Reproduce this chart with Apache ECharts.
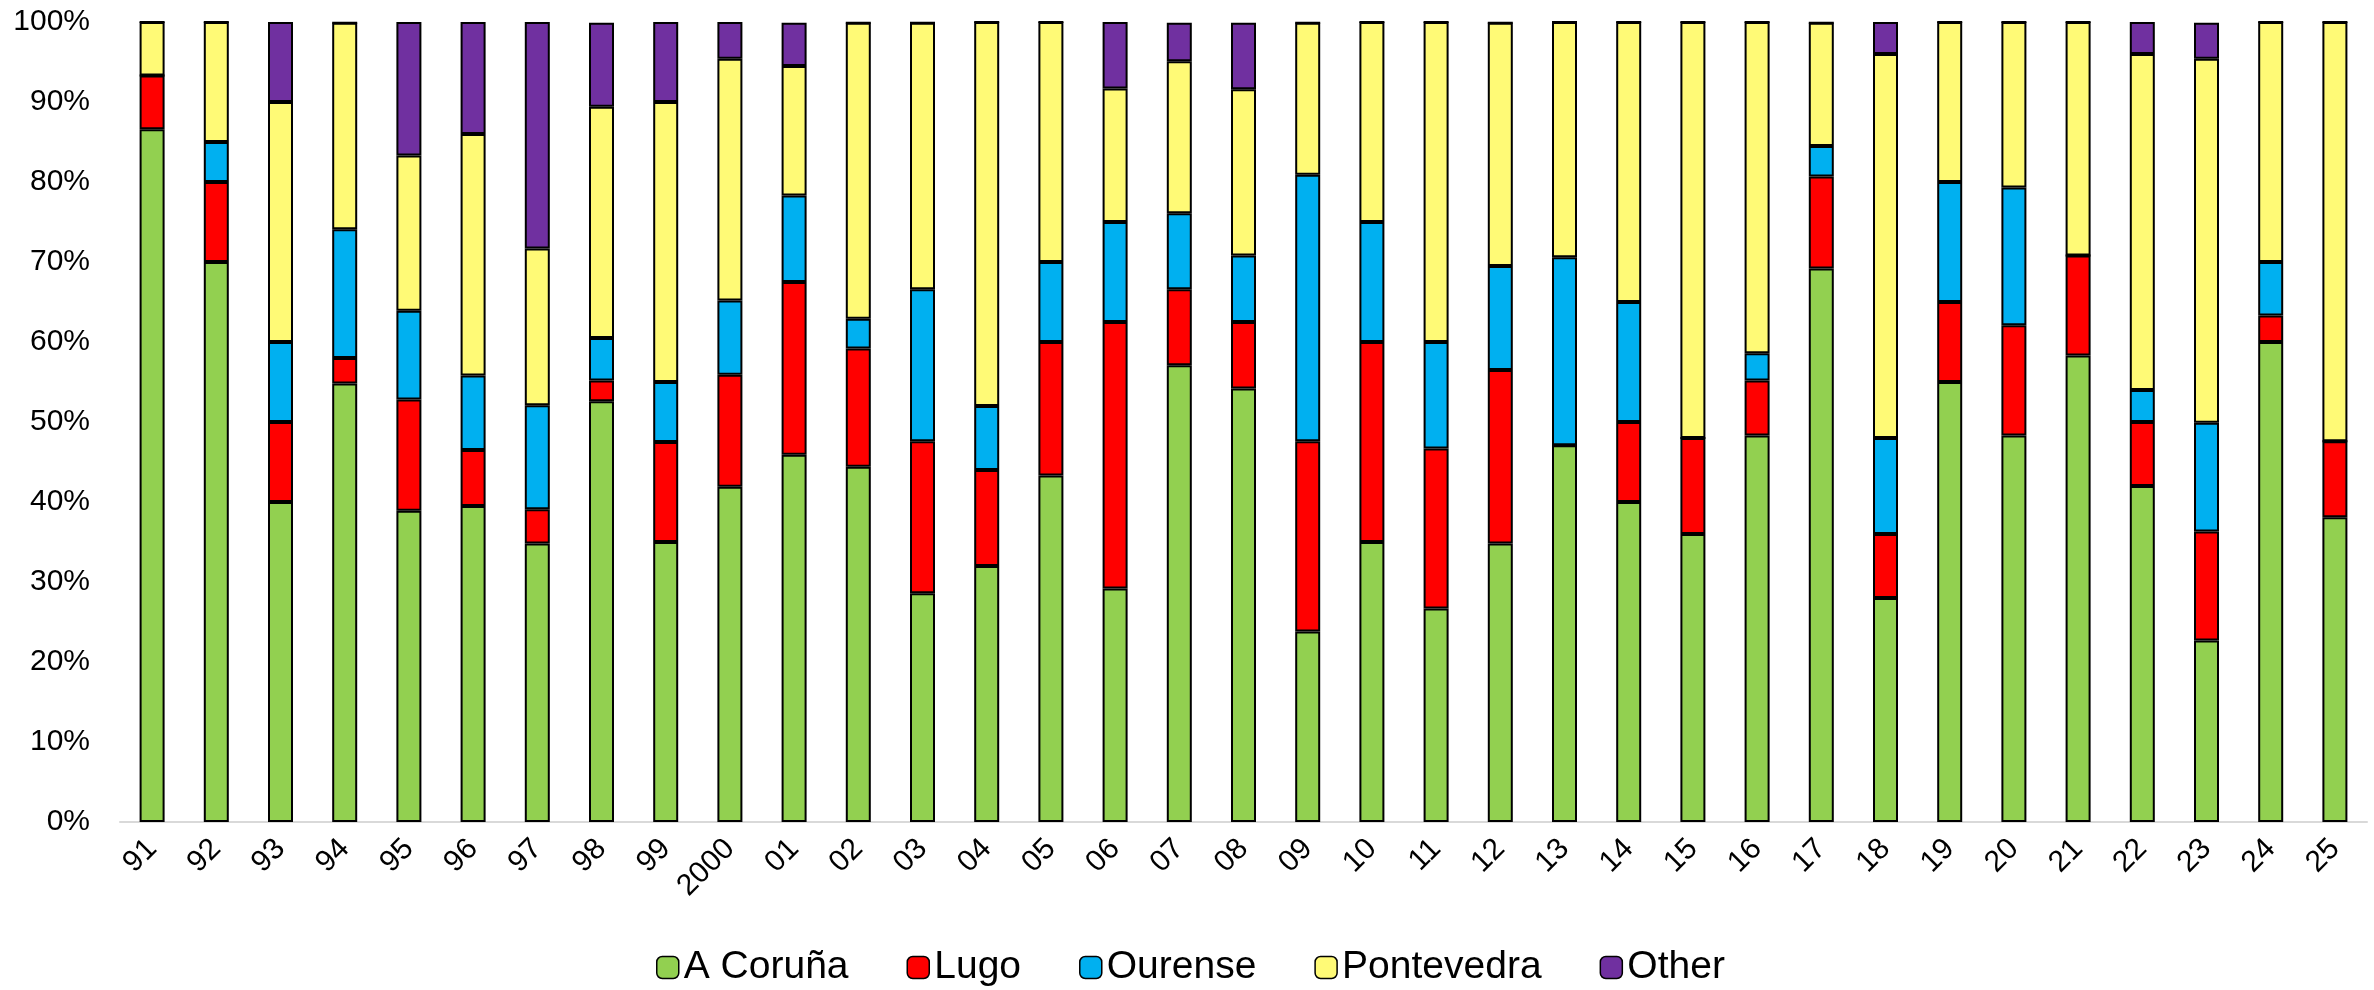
<!DOCTYPE html>
<html>
<head>
<meta charset="utf-8">
<title>Galicia share by province</title>
<script src="https://cdn.jsdelivr.net/npm/echarts@6/dist/echarts.min.js"></script>
<style>
    html, body { margin: 0; padding: 0; background: #fff; }
    #chart { width: 2374px; height: 990px; }
</style>
</head>
<body>
<div id="chart"></div>
<script>
var years = ['91','92','93','94','95','96','97','98','99','2000','01','02','03','04','05','06','07','08','09','10','11','12','13','14','15','16','17','18','19','20','21','22','23','24','25'];
var seriesNames = ['A Coruña', 'Lugo', 'Ourense', 'Pontevedra', 'Other'];
var aCoruna    = [86.6,70,40,54.8,38.9,39.5,34.8,52.6,35,41.9,45.9,44.4,28.6,32,43.3,29.2,57.1,54.2,23.8,35,26.7,34.8,47.1,40,36,48.3,69.2,28,55,48.3,58.3,42,22.7,60,38.1];
var lugo       = [6.7,10,10,3.2,13.9,7.0,4.3,2.6,12.5,14.0,21.6,14.8,19.0,12,16.7,33.3,9.5,8.3,23.8,25,20,21.7,0,10,12,6.9,11.5,8,10,13.8,12.5,8,13.6,3.3,9.5];
var ourense    = [0,5,10,16.1,11.1,9.3,13.0,5.3,7.5,9.3,10.8,3.7,19.0,8,10,12.5,9.5,8.3,33.3,15,13.3,13.0,23.5,15,0,3.4,3.8,12,15,17.2,0,4,13.6,6.7,0];
var pontevedra = [6.7,15,30,25.8,19.4,30.2,19.6,28.9,35,30.2,16.2,37.0,33.3,48,30,16.7,19.0,20.8,19.0,25,40,30.4,29.4,35,52,41.4,15.4,48,20,20.7,29.2,42,45.5,30,52.4];
var other      = [0,0,10,0,16.7,14.0,28.3,10.5,10,4.6,5.4,0,0,0,0,8.3,4.8,8.3,0,0,0,0,0,0,0,0,0,4,0,0,0,4,4.5,0,0];

var colors = ['#92D050', '#FF0000', '#00B0F0', '#FFFA76', '#7030A0'];
var values = [aCoruna, lugo, ourense, pontevedra, other];
var font = 'Liberation Sans, Arial, sans-serif';

var chart = echarts.init(document.getElementById('chart'));

var series = [];
for (var i = 0; i < seriesNames.length; i++) {
    series.push({
        name: seriesNames[i],
        type: 'bar',
        stack: 'total',
        barWidth: 25,
        data: values[i],
        itemStyle: {
            color: colors[i],
            borderColor: '#000',
            borderWidth: 2
        }
    });
}

var option = {
    animation: false,
    color: colors,
    grid: { left: 120, right: 7, top: 22, bottom: 168 },
    legend: {
        data: seriesNames,
        top: 943,
        left: 651,
        itemWidth: 22,
        itemHeight: 22,
        itemGap: 58,
        selectedMode: false,
        textStyle: { fontSize: 39, color: '#000', fontFamily: font },
        itemStyle: { borderColor: '#000', borderWidth: 1.5 }
    },
    xAxis: {
        type: 'category',
        data: years,
        axisLine: { lineStyle: { color: '#D9D9D9', width: 2 } },
        axisTick: { show: false },
        axisLabel: {
            interval: 0,
            rotate: 45,
            margin: 22,
            fontSize: 30,
            color: '#000',
            fontFamily: font
        }
    },
    yAxis: {
        type: 'value',
        min: 0,
        max: 100,
        interval: 10,
        axisLine: { show: false },
        axisTick: { show: false },
        splitLine: { show: false },
        axisLabel: {
            formatter: '{value}%',
            margin: 30,
            fontSize: 30,
            color: '#000',
            fontFamily: font
        }
    },
    series: series
};

chart.setOption(option);
</script>
</body>
</html>
